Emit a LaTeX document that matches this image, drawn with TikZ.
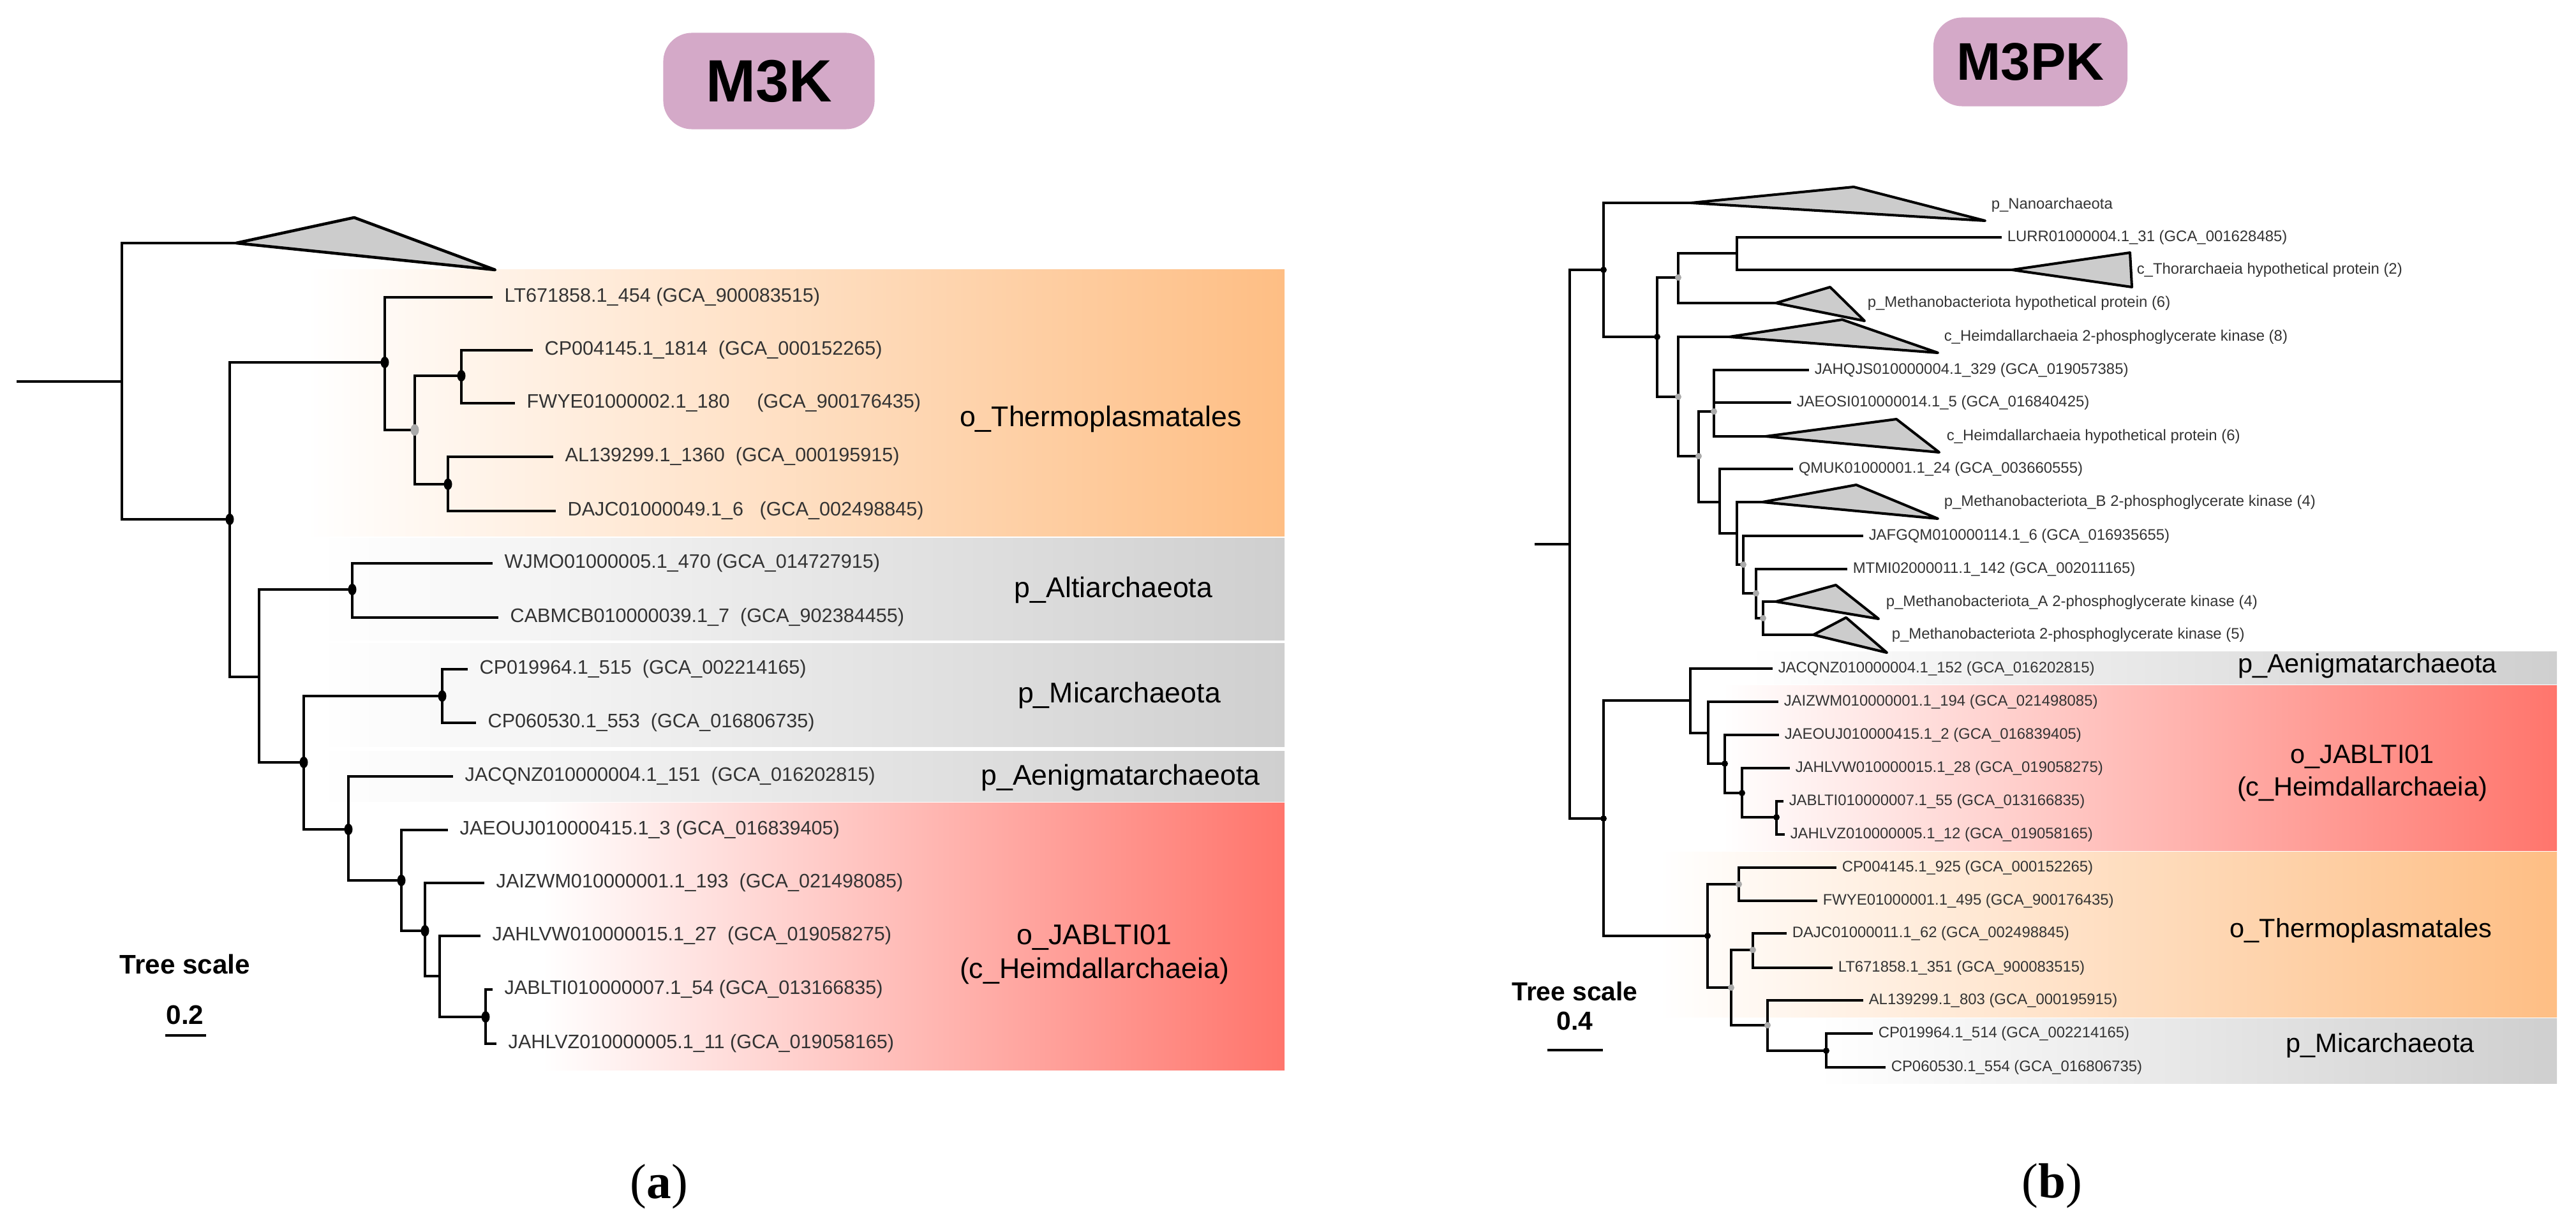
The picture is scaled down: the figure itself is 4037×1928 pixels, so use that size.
\documentclass[tikz,border=0pt]{standalone}
\usepackage{fontspec}
\setmainfont{Liberation Sans}
\newfontfamily\capfont{Liberation Serif}
\definecolor{pillpink}{RGB}{212,169,200}
\definecolor{bandorange}{RGB}{254,190,132}
\definecolor{bandred}{RGB}{255,117,108}
\definecolor{bandgray}{RGB}{207,207,207}
\definecolor{cladegray}{RGB}{204,204,204}
\definecolor{dotgray}{RGB}{170,170,170}
\begin{document}
\begin{tikzpicture}[x=0.01cm,y=-0.01cm,
        brL/.style={line width=1.4pt},
        brR/.style={line width=1.15pt},
        cladeL/.style={draw,fill=cladegray,line width=1.3pt,line join=round},
        cladeR/.style={draw,fill=cladegray,line width=1.15pt,line join=round},
        tipL/.style={anchor=west,inner xsep=0.18cm,inner ysep=0pt,text=black!80,font=\fontsize{8.7}{10}\selectfont},
        tipR/.style={anchor=west,inner xsep=0.08cm,inner ysep=0pt,text=black!80,font=\fontsize{6.8}{8}\selectfont},
        cladetxt/.style={anchor=west,inner sep=0pt,text=black!80,font=\fontsize{6.8}{8}\selectfont},
        grpL/.style={font=\fontsize{12.7}{14.8}\selectfont,align=center},
        grpR/.style={font=\fontsize{11.8}{14.5}\selectfont,align=center},
        pill/.style={fill=pillpink,rounded corners=0.45cm,font=\bfseries},
        scaletxt/.style={font=\bfseries\fontsize{12}{14}\selectfont,inner sep=0pt},
        capt/.style={font=\capfont\fontsize{22}{26}\selectfont}]
            \useasboundingbox (0,0) rectangle (4037,1928);

            \shade[left color=white,right color=bandorange] (480,423) rectangle (2013,840);
            \shade[left color=white,right color=bandgray] (500,843) rectangle (2013,1003);
            \shade[left color=white,right color=bandgray] (500,1008) rectangle (2013,1170);
            \shade[left color=white,right color=bandgray] (500,1177) rectangle (2013,1256);
            \shade[left color=white,right color=bandred] (850,1258) rectangle (2013,1677);
            \shade[left color=white,right color=bandgray] (2740,1021) rectangle (4007,1072);
            \shade[left color=white,right color=bandred] (2700,1074) rectangle (4007,1333);
            \shade[left color=white,right color=bandorange] (2600,1335) rectangle (4007,1594);
            \shade[left color=white,right color=bandgray] (2850,1596) rectangle (4007,1698);

            \node [pill,minimum width=3.31cm,minimum height=1.51cm,font=\bfseries\fontsize{26.6}{30}\selectfont] (ttlK) at (1205,127) {M3K};
            \node [pill,minimum width=3.04cm,minimum height=1.39cm,font=\bfseries\fontsize{23.6}{27}\selectfont] (ttlPK) at (3182,97) {M3PK};

            \coordinate (r0) at (26,598);
            \coordinate (a0) at (191,598);
            \coordinate (a1) at (360,814);
            \coordinate (a2) at (603,568);
            \coordinate (a3) at (650,674);
            \coordinate (a4) at (723,589);
            \coordinate (a5) at (702,759);
            \coordinate (a6) at (406,1061);
            \coordinate (a7) at (552,924);
            \coordinate (a8) at (476,1195);
            \coordinate (a9) at (693,1091);
            \coordinate (a10) at (546,1300);
            \coordinate (a11) at (629,1380);
            \coordinate (a12) at (666,1459);
            \coordinate (a13) at (689,1530);
            \coordinate (a14) at (761,1594);
            \coordinate (triA) at (370,381);
            \coordinate (triT) at (555,341);
            \coordinate (triB) at (776,423);

            \node [tipL] (lA) at (772,466) {LT671858.1\_454 (GCA\_900083515)};
            \node [tipL] (lB) at (835,549) {CP004145.1\_1814~~(GCA\_000152265)};
            \node [tipL] (lC) at (807,632) {FWYE01000002.1\_180~~~~~(GCA\_900176435)};
            \node [tipL] (lD) at (867,716) {AL139299.1\_1360~~(GCA\_000195915)};
            \node [tipL] (lE) at (871,801) {DAJC01000049.1\_6~~~(GCA\_002498845)};
            \node [tipL] (lF) at (772,883) {WJMO01000005.1\_470 (GCA\_014727915)};
            \node [tipL] (lG) at (781,968) {CABMCB010000039.1\_7~~(GCA\_902384455)};
            \node [tipL] (lH) at (733,1049) {CP019964.1\_515~~(GCA\_002214165)};
            \node [tipL] (lI) at (746,1133) {CP060530.1\_553~~(GCA\_016806735)};
            \node [tipL] (lJ) at (710,1217) {JACQNZ010000004.1\_151~~(GCA\_016202815)};
            \node [tipL] (lK) at (702,1301) {JAEOUJ010000415.1\_3 (GCA\_016839405)};
            \node [tipL] (lL) at (759,1384) {JAIZWM010000001.1\_193~~(GCA\_021498085)};
            \node [tipL] (lM) at (753,1467) {JAHLVW010000015.1\_27~~(GCA\_019058275)};
            \node [tipL] (lN) at (772,1551) {JABLTI010000007.1\_54 (GCA\_013166835)};
            \node [tipL] (lO) at (778,1636) {JAHLVZ010000005.1\_11 (GCA\_019058165)};

            \draw [cladeL] (triA) -- (triT) -- (triB) -- cycle;
            \draw [brL] (r0) -- (a0)
                (a0) |- (triA) (a0) |- (a1)
                (a1) |- (a2) (a1) |- (a6)
                (a2) |- (lA.west) (a2) |- (a3)
                (a3) |- (a4) (a3) |- (a5)
                (a4) |- (lB.west) (a4) |- (lC.west)
                (a5) |- (lD.west) (a5) |- (lE.west)
                (a6) |- (a7) (a6) |- (a8)
                (a7) |- (lF.west) (a7) |- (lG.west)
                (a8) |- (a9) (a8) |- (a10)
                (a9) |- (lH.west) (a9) |- (lI.west)
                (a10) |- (lJ.west) (a10) |- (a11)
                (a11) |- (lK.west) (a11) |- (a12)
                (a12) |- (lL.west) (a12) |- (a13)
                (a13) |- (lM.west) (a13) |- (a14)
                (a14) |- (lN.west) (a14) |- (lO.west);
            \foreach \d in {a1,a2,a4,a5,a7,a8,a9,a10,a11,a12,a14}
                \fill (\d) ellipse [x radius=0.065cm,y radius=0.09cm];
            \fill [dotgray] (a3) ellipse [x radius=0.065cm,y radius=0.09cm];

            \node [grpL] (gThermoL) at (1725,657) {o\_Thermoplasmatales};
            \node [grpL] (gAltiL) at (1745,925) {p\_Altiarchaeota};
            \node [grpL] (gMicL) at (1754,1090) {p\_Micarchaeota};
            \node [grpL] (gAenigL) at (1756,1219) {p\_Aenigmatarchaeota};
            \node [grpL] (gJablL) at (1715,1496) {o\_JABLTI01\\(c\_Heimdallarchaeia)};

            \coordinate (b0s) at (2405,853);
            \coordinate (b0) at (2460,853);
            \coordinate (b1) at (2513,423);
            \coordinate (b2) at (2597,528);
            \coordinate (b3) at (2630,435);
            \coordinate (b4) at (2722,397);
            \coordinate (b5) at (2630,622);
            \coordinate (b6) at (2662,715);
            \coordinate (b7) at (2686,645);
            \coordinate (b8) at (2695,787);
            \coordinate (b9) at (2722,836);
            \coordinate (b10) at (2732,885);
            \coordinate (b11) at (2752,930);
            \coordinate (b12) at (2763,969);
            \coordinate (c1) at (2513,1283);
            \coordinate (c2) at (2649,1098);
            \coordinate (c3) at (2677,1149);
            \coordinate (c4) at (2703,1197);
            \coordinate (c5) at (2730,1243);
            \coordinate (c6) at (2784,1281);
            \coordinate (c7) at (2676,1467);
            \coordinate (c8) at (2725,1386);
            \coordinate (c9) at (2713,1548);
            \coordinate (c10) at (2747,1489);
            \coordinate (c11) at (2770,1607);
            \coordinate (c12) at (2862,1647);

            \coordinate (nanoA) at (2650,318);
            \coordinate (nanoT) at (2905,293);
            \coordinate (nanoB) at (3111,346);
            \coordinate (thorA) at (3153,423);
            \coordinate (thorT) at (3338,396);
            \coordinate (thorB) at (3341,450);
            \coordinate (mhypA) at (2783,475);
            \coordinate (mhypT) at (2868,450);
            \coordinate (mhypB) at (2922,503);
            \coordinate (hpgkA) at (2710,528);
            \coordinate (hpgkT) at (2887,501);
            \coordinate (hpgkB) at (3037,553);
            \coordinate (hhypA) at (2767,684);
            \coordinate (hhypT) at (2972,657);
            \coordinate (hhypB) at (3039,709);
            \coordinate (mbA) at (2762,787);
            \coordinate (mbT) at (2909,760);
            \coordinate (mbB) at (3037,813);
            \coordinate (maA) at (2783,943);
            \coordinate (maT) at (2877,917);
            \coordinate (maB) at (2944,970);
            \coordinate (mA) at (2842,995);
            \coordinate (mT) at (2893,968);
            \coordinate (mB) at (2957,1023);

            \node [tipR] (rA) at (3137,372) {LURR01000004.1\_31 (GCA\_001628485)};
            \node [tipR] (rB) at (2835,580) {JAHQJS010000004.1\_329 (GCA\_019057385)};
            \node [tipR] (rC) at (2807,631) {JAEOSI010000014.1\_5 (GCA\_016840425)};
            \node [tipR] (rD) at (2810,735) {QMUK01000001.1\_24 (GCA\_003660555)};
            \node [tipR] (rE) at (2920,840) {JAFGQM010000114.1\_6 (GCA\_016935655)};
            \node [tipR] (rF) at (2895,892) {MTMI02000011.1\_142 (GCA\_002011165)};
            \node [tipR] (rG) at (2778,1048) {JACQNZ010000004.1\_152 (GCA\_016202815)};
            \node [tipR] (rH) at (2787,1100) {JAIZWM010000001.1\_194 (GCA\_021498085)};
            \node [tipR] (rI) at (2788,1152) {JAEOUJ010000415.1\_2 (GCA\_016839405)};
            \node [tipR] (rJ) at (2805,1204) {JAHLVW010000015.1\_28 (GCA\_019058275)};
            \node [tipR] (rK) at (2795,1256) {JABLTI010000007.1\_55 (GCA\_013166835)};
            \node [tipR] (rL) at (2797,1308) {JAHLVZ010000005.1\_12 (GCA\_019058165)};
            \node [tipR] (rM) at (2878,1360) {CP004145.1\_925 (GCA\_000152265)};
            \node [tipR] (rN) at (2848,1412) {FWYE01000001.1\_495 (GCA\_900176435)};
            \node [tipR] (rO) at (2800,1463) {DAJC01000011.1\_62 (GCA\_002498845)};
            \node [tipR] (rP) at (2872,1517) {LT671858.1\_351 (GCA\_900083515)};
            \node [tipR] (rQ) at (2920,1568) {AL139299.1\_803 (GCA\_000195915)};
            \node [tipR] (rR) at (2935,1620) {CP019964.1\_514 (GCA\_002214165)};
            \node [tipR] (rS) at (2955,1673) {CP060530.1\_554 (GCA\_016806735)};

            \node [cladetxt] (tNano) at (3120,321) {p\_Nanoarchaeota};
            \node [cladetxt] (tThor) at (3348,423) {c\_Thorarchaeia hypothetical protein (2)};
            \node [cladetxt] (tMhyp) at (2926,475) {p\_Methanobacteriota hypothetical protein (6)};
            \node [cladetxt] (tHpgk) at (3046,528) {c\_Heimdallarchaeia 2-phosphoglycerate kinase (8)};
            \node [cladetxt] (tHhyp) at (3050,684) {c\_Heimdallarchaeia hypothetical protein (6)};
            \node [cladetxt] (tMb) at (3046,787) {p\_Methanobacteriota\_B 2-phosphoglycerate kinase (4)};
            \node [cladetxt] (tMa) at (2955,944) {p\_Methanobacteriota\_A 2-phosphoglycerate kinase (4)};
            \node [cladetxt] (tM) at (2964,995) {p\_Methanobacteriota 2-phosphoglycerate kinase (5)};

            \foreach \c in {nano,thor,mhyp,hpgk,hhyp,mb,ma,m}
                \draw [cladeR] (\c A) -- (\c T) -- (\c B) -- cycle;
            \draw [brR] (b0s) -- (b0)
                (b0) |- (b1) (b0) |- (c1)
                (b1) |- (nanoA) (b1) |- (b2)
                (b2) |- (b3) (b2) |- (b5)
                (b3) |- (b4) (b3) |- (mhypA)
                (b4) |- (rA.west) (b4) |- (thorA)
                (b5) |- (hpgkA) (b5) |- (b6)
                (b6) |- (b7) (b6) |- (b8)
                (b7) |- (rB.west) (b7) |- (rC.west) (b7) |- (hhypA)
                (b8) |- (rD.west) (b8) |- (b9)
                (b9) |- (mbA) (b9) |- (b10)
                (b10) |- (rE.west) (b10) |- (b11)
                (b11) |- (rF.west) (b11) |- (b12)
                (b12) |- (maA) (b12) |- (mA)
                (c1) |- (c2) (c1) |- (c7)
                (c2) |- (rG.west) (c2) |- (c3)
                (c3) |- (rH.west) (c3) |- (c4)
                (c4) |- (rI.west) (c4) |- (c5)
                (c5) |- (rJ.west) (c5) |- (c6)
                (c6) |- (rK.west) (c6) |- (rL.west)
                (c7) |- (c8) (c7) |- (c9)
                (c8) |- (rM.west) (c8) |- (rN.west)
                (c9) |- (c10) (c9) |- (c11)
                (c10) |- (rO.west) (c10) |- (rP.west)
                (c11) |- (rQ.west) (c11) |- (c12)
                (c12) |- (rR.west) (c12) |- (rS.west);
            \foreach \d in {b1,b2,c1,c4,c5,c6,c7,c12}
                \fill (\d) circle [radius=0.05cm];
            \foreach \d in {b3,b5,b6,b7,b10,b11,b12,c8,c9,c10,c11}
                \fill [dotgray] (\d) circle [radius=0.05cm];

            \node [grpR] (gAenigR) at (3710,1044) {p\_Aenigmatarchaeota};
            \node [grpR] (gJablR) at (3702,1212) {o\_JABLTI01\\(c\_Heimdallarchaeia)};
            \node [grpR] (gThermoR) at (3700,1459) {o\_Thermoplasmatales};
            \node [grpR] (gMicR) at (3730,1639) {p\_Micarchaeota};

            \node [scaletxt] (scL) at (290,1511) {Tree scale};
            \node [scaletxt] (svL) at (290,1591) {0.2};
            \coordinate (sbL1) at (259,1623);
            \coordinate (sbL2) at (323,1623);
            \draw [line width=1.4pt] (sbL1) -- (sbL2);
            \node [scaletxt,font=\bfseries\fontsize{11.6}{14}\selectfont] (scR) at (2468,1554) {Tree scale};
            \node [scaletxt,font=\bfseries\fontsize{11.6}{14}\selectfont] (svR) at (2468,1600) {0.4};
            \coordinate (sbR1) at (2425,1646);
            \coordinate (sbR2) at (2512,1646);
            \draw [line width=1.15pt] (sbR1) -- (sbR2);

            \node [capt] (capA) at (1033,1860) {(\textbf{a})};
            \node [capt] (capB) at (3216,1859) {(\textbf{b})};
        \end{tikzpicture}
\end{document}
